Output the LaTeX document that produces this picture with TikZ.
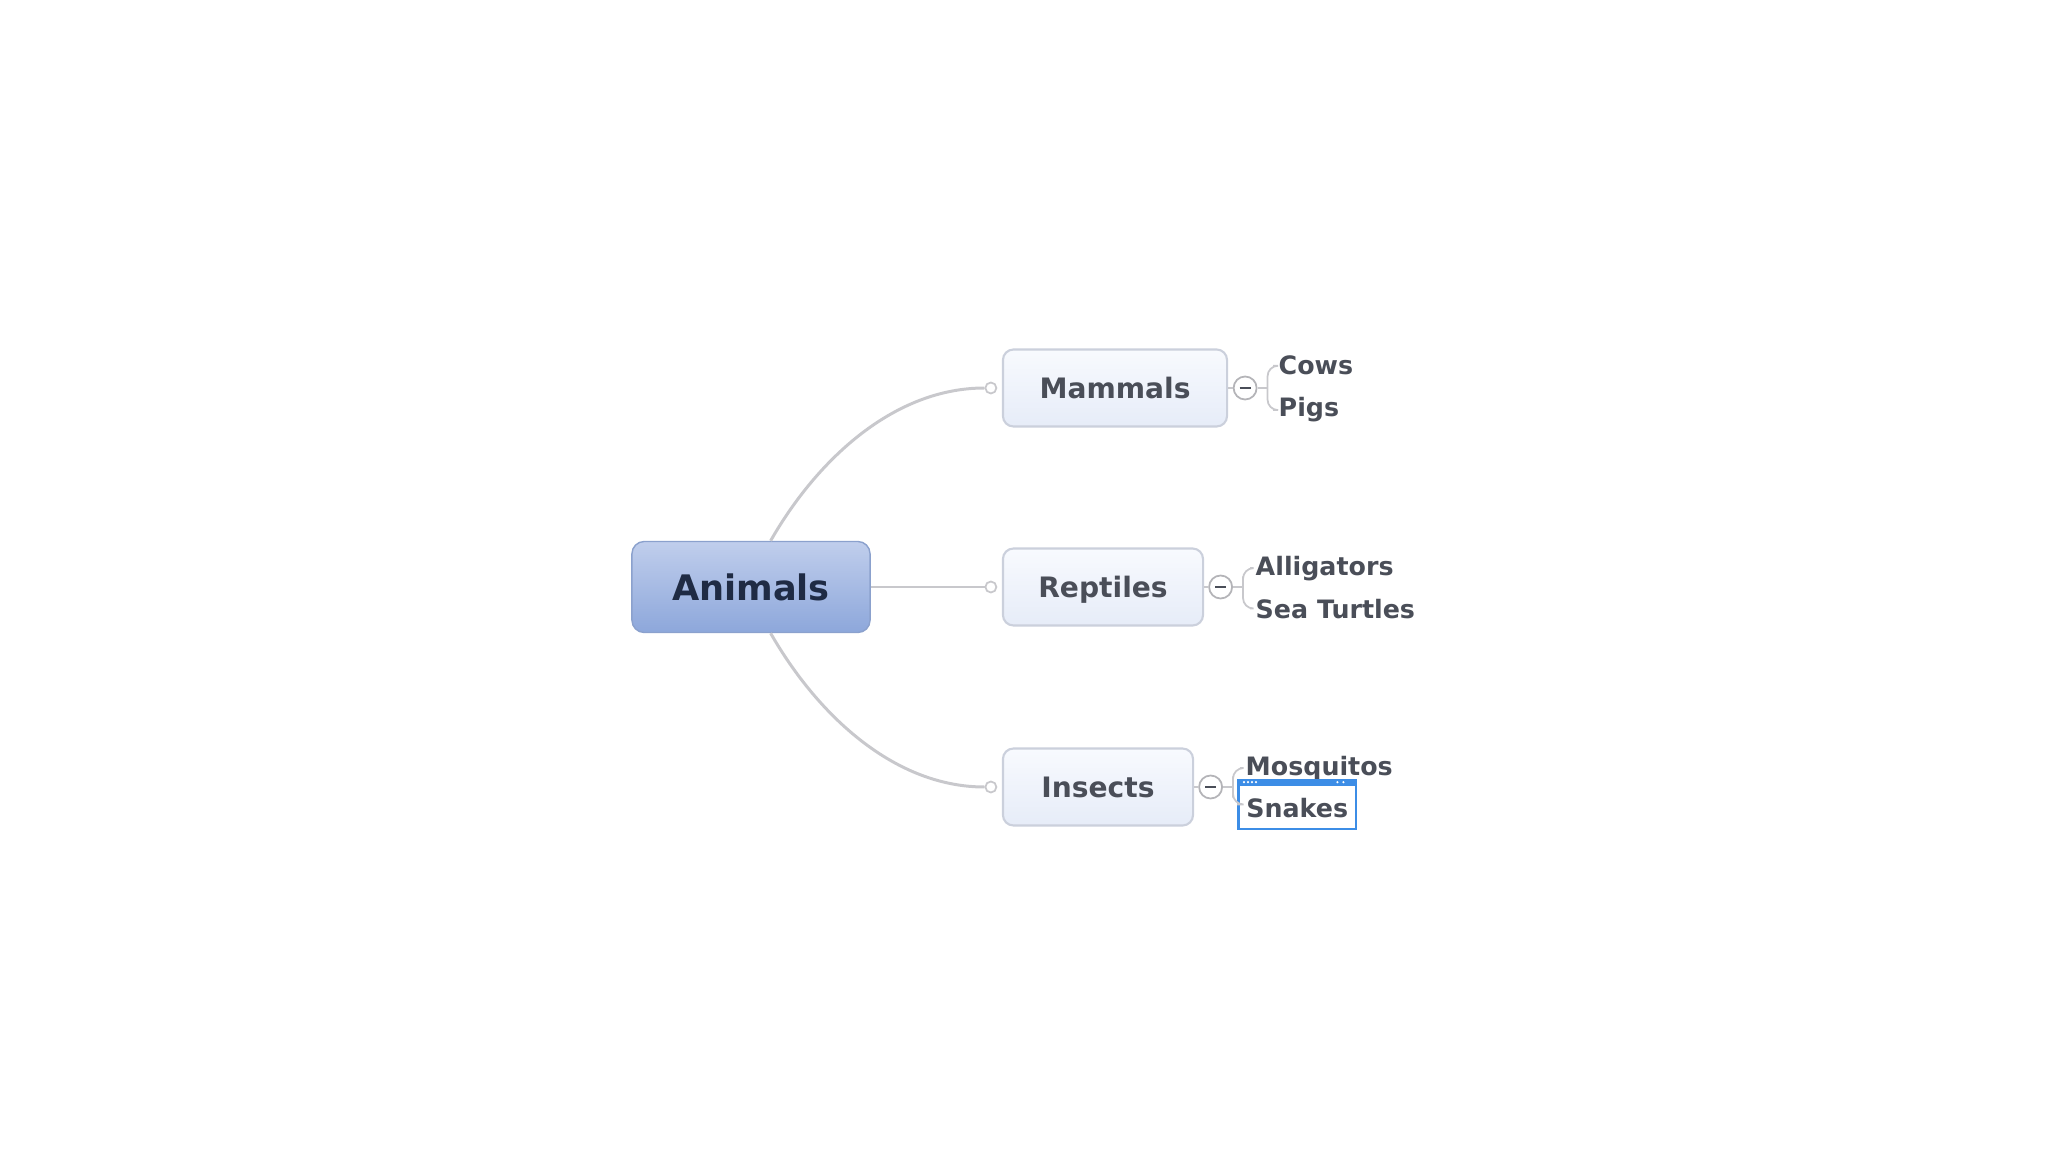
\documentclass[tikz,border=0pt]{standalone}
\usepackage{fontspec}
\setmainfont{DejaVu Sans}
\usetikzlibrary{calc}
\definecolor{linegray}{HTML}{C8C8CC}
\definecolor{textgray}{HTML}{4A4E58}
\definecolor{rootblue}{HTML}{8DA7DB}
\definecolor{roottop}{HTML}{C0CEEC}
\definecolor{roottext}{HTML}{1F2B44}
\definecolor{subtop}{HTML}{F8FAFE}
\definecolor{subbottom}{HTML}{E6ECF8}
\definecolor{subborder}{HTML}{CBD0DC}
\definecolor{selblue}{HTML}{3C8DE6}
\begin{document}
\begin{tikzpicture}[x = .01cm, y = -.01cm,
	root/.style = {draw=rootblue!85!gray, top color=roottop, bottom color=rootblue, rounded corners=3.5pt, minimum width=2.38cm, minimum height=.91cm, text=roottext, font=\fontsize{10}{12}\selectfont\bfseries},
	topic/.style = {draw=subborder, line width=.6pt, top color=subtop, bottom color=subbottom, rounded corners=3pt, minimum height=.77cm, text height=6.1pt, text depth=0pt, text=textgray, font=\fontsize{8}{10}\selectfont\bfseries},
	leaf/.style = {anchor=base west, inner sep=0pt, text=textgray, font=\fontsize{7.2}{9}\selectfont\bfseries},
	joint/.style = {circle, draw=linegray, fill=white, line width=.5pt, inner sep=0pt, minimum size=.11cm},
	fold/.style = {circle, draw=linegray!90!black, fill=white, line width=.5pt, inner sep=0pt, minimum size=.23cm,
		path picture={\draw[textgray, line width=.6pt] ([xshift=-1.6pt]path picture bounding box.center) -- ([xshift=1.6pt]path picture bounding box.center);}},
	branch/.style = {draw=linegray, line width=.85pt},
	bracket/.style = {draw=linegray, line width=.5pt, rounded corners=3pt}]
	\useasboundingbox (0,0) rectangle (2048,1152);
	% central topic and main branches
	\node[root] (animals) at (751,587) {Animals};
	\node[topic, minimum width=2.24cm] (mammals) at (1115,388) {Mammals};
	\node[topic, minimum width=2cm] (reptiles) at (1103,587) {Reptiles};
	\node[topic, minimum width=1.9cm] (insects) at (1098,787) {Insects};
	\node[joint] (mjoint) at ([xshift=-.11cm]mammals.west) {};
	\node[joint] (rjoint) at ([xshift=-.11cm]reptiles.west) {};
	\node[joint] (ijoint) at ([xshift=-.11cm]insects.west) {};
	\draw[branch] (animals.67) .. controls (818,458) and (895,388) .. (mjoint.west);
	\draw[branch] (animals.east) -- (rjoint.west);
	\draw[branch] (animals.-67) .. controls (818,716) and (895,787) .. (ijoint.west);
	% collapse buttons
	\node[fold] (mfold) at ([xshift=.17cm]mammals.east) {};
	\node[fold] (rfold) at ([xshift=.165cm]reptiles.east) {};
	\node[fold] (ifold) at ([xshift=.165cm]insects.east) {};
	\draw[bracket] (mammals.east) -- (mfold.west);
	\draw[bracket] (reptiles.east) -- (rfold.west);
	\draw[bracket] (insects.east) -- (ifold.west);
	% subtopics
	\node[leaf] (cows) at (1278,375) {Cows};
	\node[leaf] (pigs) at (1278,417) {Pigs};
	\node[leaf] (alligators) at (1255,575) {Alligators};
	\node[leaf] (seaturtles) at (1255,618) {Sea Turtles};
	\node[leaf] (mosquitos) at (1245,775) {Mosquitos};
	\node[leaf, draw=selblue, fill=white, line width=.75pt, inner xsep=.08cm, text height=.37cm, text depth=.12cm] (snakes) at (1237,817) {Snakes};
	\draw[bracket] (mfold.east) -- ([xshift=.1cm]mfold.east);
	\draw[bracket] ([xshift=-.05cm]cows.west) -| ([xshift=.1cm]mfold.east) |- ([xshift=-.05cm]pigs.west);
	\draw[bracket] (rfold.east) -- ([xshift=.1cm]rfold.east);
	\draw[bracket] ([xshift=-.05cm]alligators.west) -| ([xshift=.1cm]rfold.east) |- ([xshift=-.05cm]seaturtles.west);
	\draw[bracket] (ifold.east) -- ([xshift=.1cm]ifold.east);
	\draw[bracket] ([xshift=-.05cm]mosquitos.west) -| ([xshift=.1cm]ifold.east) |- (snakes.west);
	% selection strip on the Snakes frame
	\fill[selblue] (snakes.north west) rectangle ([yshift=-.07cm]snakes.north east);
	\foreach \dx in {7,11,15,19}
		\fill[white] ([shift={(\dx,3.5)}]snakes.north west) circle (.012cm);
	\foreach \dx in {-20,-14}
		\fill[white] ([shift={(\dx,3.5)}]snakes.north east) circle (.012cm);
\end{tikzpicture}
\end{document}
